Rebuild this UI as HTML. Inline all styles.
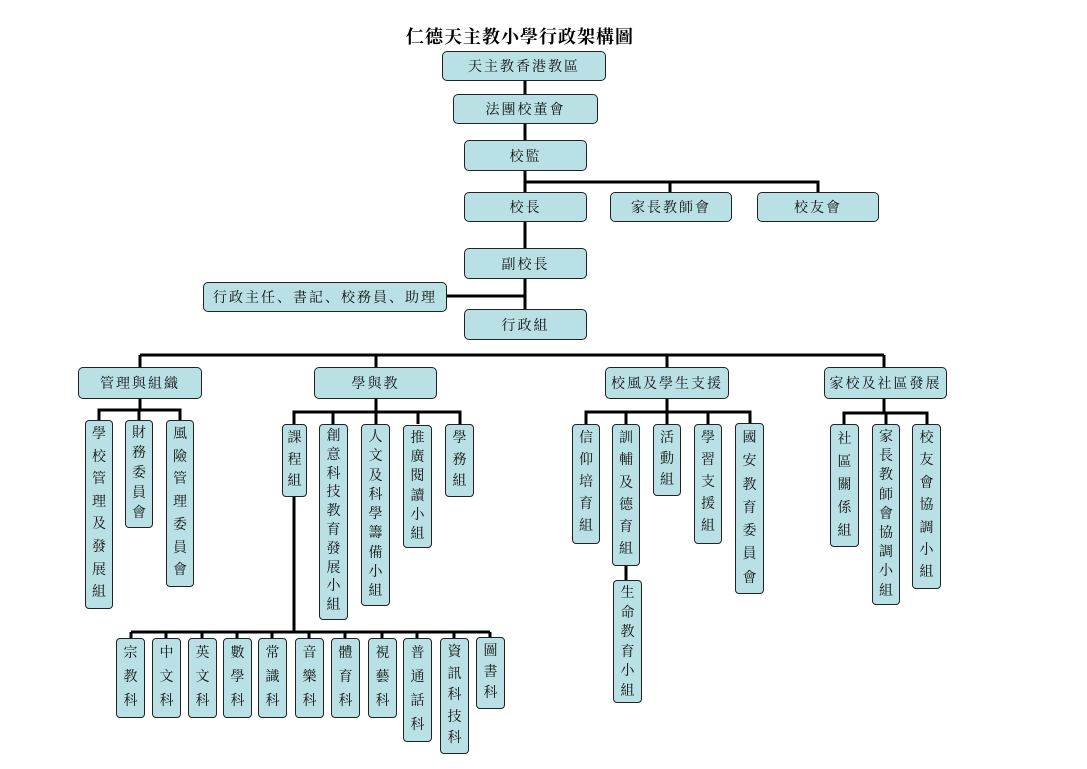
<!DOCTYPE html>
<html><head><meta charset="utf-8"><style>
body{margin:0;background:#fff;}
#c{position:relative;width:1087px;height:769px;overflow:hidden;background:#fff;font-family:"Liberation Serif","Noto Serif CJK SC",serif;}
.b{position:absolute;box-sizing:border-box;background:#b9e0e4;border:1.5px solid #222;border-radius:5px;display:flex;align-items:center;justify-content:center;font-size:14px;color:#111;letter-spacing:2px;}
.v{position:absolute;box-sizing:border-box;background:#b9e0e4;border:1.5px solid #222;border-radius:4px;text-align:center;font-size:14px;line-height:21px;padding-top:3px;color:#111;}
svg{position:absolute;left:0;top:0;}
h1{position:absolute;left:0;width:1040px;top:23px;margin:0;text-align:center;font-size:18px;font-weight:bold;font-family:"Liberation Serif","Noto Serif CJK SC",serif;letter-spacing:1px;}
</style></head><body><div id="c">
<svg width="1087" height="769"><g stroke="#000" stroke-width="3" fill="none">
<path d="M525 81V309M525 182H818V192M670 182V192M447 296H525"/>
<path d="M140 355H884M140 355V367M376 355V367M667 355V367M884 355V367"/>
<path d="M140 399V410M99 420V410H180V420M139 410V420"/>
<path d="M376 399V412M294 424V412H460V424M333 412V424M376 412V424M418 412V424"/>
<path d="M667 399V412M586 424V412H750V424M626 412V424M667 412V424M708 412V424M626 566V580"/>
<path d="M884 399V413M844 424V413H927V424M886 413V424"/>
<path d="M294 497V632M131 632H490M131 632V638M166 632V638M202 632V638M237 632V638M272 632V638M309 632V638M345 632V638M382 632V638M417 632V638M454 632V638M490 632V638"/>
</g></svg>
<h1>仁德天主教小學行政架構圖</h1>
<div class="b" style="left:442px;top:51px;width:164px;height:30px">天主教香港教區</div>
<div class="b" style="left:453px;top:94px;width:145px;height:30px">法團校董會</div>
<div class="b" style="left:464px;top:140px;width:123px;height:31px">校監</div>
<div class="b" style="left:464px;top:192px;width:123px;height:30px">校長</div>
<div class="b" style="left:610px;top:192px;width:122px;height:30px">家長教師會</div>
<div class="b" style="left:757px;top:192px;width:122px;height:30px">校友會</div>
<div class="b" style="left:464px;top:248px;width:123px;height:31px">副校長</div>
<div class="b" style="left:203px;top:282px;width:244px;height:30px">行政主任、書記、校務員、助理</div>
<div class="b" style="left:464px;top:309px;width:123px;height:31px">行政組</div>
<div class="b" style="left:78px;top:367px;width:124px;height:32px">管理與組織</div>
<div class="b" style="left:314px;top:367px;width:123px;height:32px">學與教</div>
<div class="b" style="left:605px;top:367px;width:124px;height:32px">校風及學生支援</div>
<div class="b" style="left:824px;top:367px;width:123px;height:32px">家校及社區發展</div>

<div class="v" style="left:85px;top:420px;width:28px;height:189px;line-height:22.6px">學<br>校<br>管<br>理<br>及<br>發<br>展<br>組</div>
<div class="v" style="left:125px;top:420px;width:28px;height:108px;line-height:20px">財<br>務<br>委<br>員<br>會</div>
<div class="v" style="left:166px;top:420px;width:28px;height:167px;line-height:22.7px">風<br>險<br>管<br>理<br>委<br>員<br>會</div>

<div class="v" style="left:282px;top:424px;width:25px;height:73px;line-height:21.6px">課<br>程<br>組</div>
<div class="v" style="left:319px;top:424px;width:29px;height:196px;line-height:18.8px">創<br>意<br>科<br>技<br>教<br>育<br>發<br>展<br>小<br>組</div>
<div class="v" style="left:361px;top:424px;width:29px;height:182px;line-height:19.3px">人<br>文<br>及<br>科<br>學<br>籌<br>備<br>小<br>組</div>
<div class="v" style="left:403px;top:425px;width:29px;height:123px;line-height:19.2px">推<br>廣<br>閱<br>讀<br>小<br>組</div>
<div class="v" style="left:445px;top:424px;width:29px;height:73px;line-height:21.6px">學<br>務<br>組</div>

<div class="v" style="left:572px;top:424px;width:28px;height:120px;line-height:22px">信<br>仰<br>培<br>育<br>組</div>
<div class="v" style="left:612px;top:424px;width:28px;height:142px;line-height:22.3px">訓<br>輔<br>及<br>德<br>育<br>組</div>
<div class="v" style="left:653px;top:424px;width:28px;height:72px;line-height:21px">活<br>動<br>組</div>
<div class="v" style="left:694px;top:424px;width:28px;height:120px;line-height:22px">學<br>習<br>支<br>援<br>組</div>
<div class="v" style="left:735px;top:423px;width:29px;height:171px;line-height:23.3px">國<br>安<br>教<br>育<br>委<br>員<br>會</div>
<div class="v" style="left:613px;top:580px;width:29px;height:123px;line-height:19.5px">生<br>命<br>教<br>育<br>小<br>組</div>

<div class="v" style="left:830px;top:424px;width:29px;height:123px;line-height:23px">社<br>區<br>關<br>係<br>組</div>
<div class="v" style="left:872px;top:424px;width:28px;height:181px;line-height:19.2px">家<br>長<br>教<br>師<br>會<br>協<br>調<br>小<br>組</div>
<div class="v" style="left:912px;top:424px;width:29px;height:165px;line-height:22.4px">校<br>友<br>會<br>協<br>調<br>小<br>組</div>

<div class="v" style="left:116px;top:638px;width:29px;height:80px;line-height:24px">宗<br>教<br>科</div>
<div class="v" style="left:152px;top:638px;width:29px;height:80px;line-height:24px">中<br>文<br>科</div>
<div class="v" style="left:188px;top:638px;width:29px;height:80px;line-height:24px">英<br>文<br>科</div>
<div class="v" style="left:223px;top:638px;width:29px;height:80px;line-height:24px">數<br>學<br>科</div>
<div class="v" style="left:258px;top:638px;width:29px;height:80px;line-height:24px">常<br>識<br>科</div>
<div class="v" style="left:295px;top:638px;width:29px;height:80px;line-height:24px">音<br>樂<br>科</div>
<div class="v" style="left:331px;top:638px;width:29px;height:80px;line-height:24px">體<br>育<br>科</div>
<div class="v" style="left:368px;top:638px;width:29px;height:80px;line-height:24px">視<br>藝<br>科</div>
<div class="v" style="left:403px;top:638px;width:29px;height:104px;line-height:24px">普<br>通<br>話<br>科</div>
<div class="v" style="left:440px;top:638px;width:29px;height:116px;line-height:21.6px">資<br>訊<br>科<br>技<br>科</div>
<div class="v" style="left:476px;top:637px;width:29px;height:72px;line-height:21px">圖<br>書<br>科</div>
</div></body></html>
